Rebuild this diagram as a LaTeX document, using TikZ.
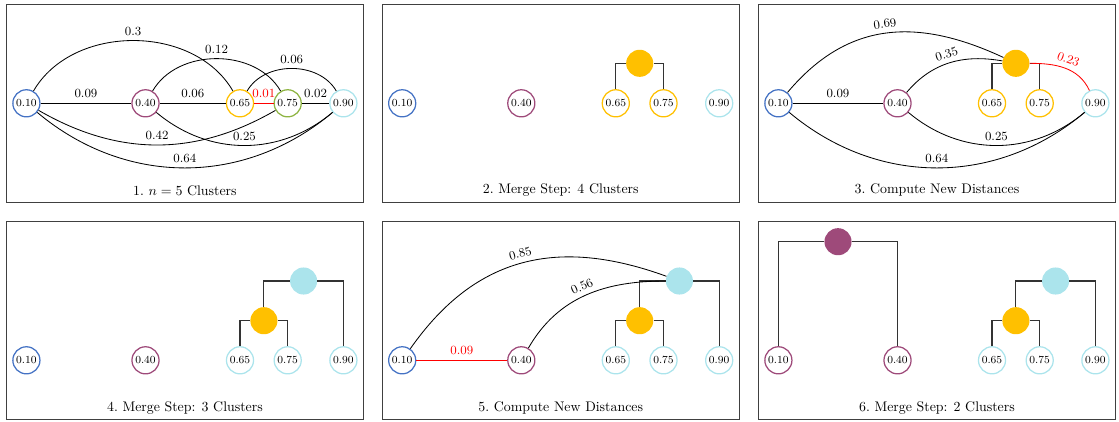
\documentclass[tikz,border=0pt]{standalone}
\usepackage{tikz}

\definecolor{cblue}{RGB}{68,114,196}
\definecolor{cpurple}{RGB}{158,74,122}
\definecolor{corange}{RGB}{255,192,0}
\definecolor{cgreen}{RGB}{142,180,66}
\definecolor{ccyan}{RGB}{171,228,236}

% one row of five leaves: #1 name prefix, #2 panel left edge, #3 row height, #4-#8 ring colours
\newcommand\leafrow[8]{%
  \node[leaf,draw=#4] (#1a) at (#2+19.7,#3) {0.10};
  \node[leaf,draw=#5] (#1b) at (#2+138.8,#3) {0.40};
  \node[leaf,draw=#6] (#1c) at (#2+233.3,#3) {0.65};
  \node[leaf,draw=#7] (#1d) at (#2+281,#3) {0.75};
  \node[leaf,draw=#8] (#1e) at (#2+336.7,#3) {0.90};
}
% panel border and caption: #1 left, #2 top, #3 caption name, #4 caption text
\newcommand\panelframe[4]{%
  \draw[frame] (#1,#2) rectangle ++(356.5,198);
  \node[caption] (#3) at (#1+178.25,#2+186.3) {#4};
}

\begin{document}
\begin{tikzpicture}[x=0.72pt,y=-0.72pt,
  leaf/.style={circle,line width=0.9pt,minimum size=19.5pt,inner sep=0pt,
    font=\fontsize{7.8}{9}\selectfont,fill=white},
  merge/.style={circle,minimum size=19.5pt,inner sep=0pt},
  edge/.style={line width=0.6pt},
  bracket/.style={line width=0.8pt,black!80},
  frame/.style={line width=0.7pt,black!75},
  lbl/.style={font=\small},
  caption/.style={font=\normalsize},
]
\useasboundingbox (0,0) rectangle (1119,421);

% ---------- 1. initial distances ----------
\panelframe{6.7}{4}{cap1}{1.\ $n=5$ Clusters}
\leafrow{p1}{6.7}{103.3}{cblue}{cpurple}{corange}{cgreen}{ccyan}
\draw[edge] (p1a) -- node[lbl,above]{0.09} (p1b);
\draw[edge] (p1b) -- node[lbl,above]{0.06} (p1c);
\draw[edge,red] (p1c) -- node[lbl,above]{0.01} (p1d);
\draw[edge] (p1d) -- node[lbl,above]{0.02} (p1e);
\draw[edge] (p1a) to[bend left=60] node[lbl,above]{0.3} (p1c);
\draw[edge] (p1b) to[bend left=60] node[lbl,above]{0.12} (p1d);
\draw[edge] (p1c) to[bend left=60] node[lbl,above]{0.06} (p1e);
\draw[edge] (p1a) to[bend right=30] node[lbl,above]{0.42} (p1d);
\draw[edge] (p1b) to[bend right=40] node[lbl,above]{0.25} (p1e);
\draw[edge] (p1a) to[bend right=40] node[lbl,above]{0.64} (p1e);

% ---------- 2. first merge ----------
\panelframe{382.5}{4}{cap2}{2.\ Merge Step: 4 Clusters}
\leafrow{p2}{382.5}{103.3}{cblue}{cpurple}{corange}{corange}{ccyan}
\node[merge,fill=corange] (p2o) at (382.5+257.2,63.3) {};
\draw[bracket] (p2c.north) |- (p2o.west);
\draw[bracket] (p2o.east) -| (p2d.north);

% ---------- 3. updated distances ----------
\panelframe{758.7}{4}{cap3}{3.\ Compute New Distances}
\leafrow{p3}{758.7}{103.3}{cblue}{cpurple}{corange}{corange}{ccyan}
\node[merge,fill=corange] (p3o) at (758.7+257.2,63.3) {};
\draw[bracket] (p3c.north) |- (p3o.west);
\draw[bracket] (p3o.east) -| (p3d.north);
\draw[edge] (p3a) -- node[lbl,above]{0.09} (p3b);
\draw[edge] (p3a) to[out=50,in=155,looseness=1.1] node[lbl,above,sloped]{0.69} (p3o);
\draw[edge] (p3b) to[out=50,in=170] node[lbl,above,sloped]{0.35} (p3o);
\draw[edge,red] (p3o) to[out=0,in=115] node[lbl,above,sloped]{0.23} (p3e);
\draw[edge] (p3b) to[bend right=40] node[lbl,above]{0.25} (p3e);
\draw[edge] (p3a) to[bend right=40] node[lbl,above]{0.64} (p3e);

% ---------- 4. second merge ----------
\panelframe{6.7}{221.7}{cap4}{4.\ Merge Step: 3 Clusters}
\leafrow{p4}{6.7}{360.3}{cblue}{cpurple}{ccyan}{ccyan}{ccyan}
\node[merge,fill=corange] (p4o) at (6.7+257.2,320.7) {};
\node[merge,fill=ccyan] (p4y) at (6.7+296.9,281) {};
\draw[bracket] (p4c.north) |- (p4o.west);
\draw[bracket] (p4o.east) -| (p4d.north);
\draw[bracket] (p4o.north) |- (p4y.west);
\draw[bracket] (p4y.east) -| (p4e.north);

% ---------- 5. updated distances ----------
\panelframe{382.5}{221.7}{cap5}{5.\ Compute New Distances}
\leafrow{p5}{382.5}{360.3}{cblue}{cpurple}{ccyan}{ccyan}{ccyan}
\node[merge,fill=corange] (p5o) at (382.5+257.2,320.7) {};
\node[merge,fill=ccyan] (p5y) at (382.5+296.9,281) {};
\draw[bracket] (p5c.north) |- (p5o.west);
\draw[bracket] (p5o.east) -| (p5d.north);
\draw[bracket] (p5o.north) |- (p5y.west);
\draw[bracket] (p5y.east) -| (p5e.north);
\draw[edge,red] (p5a) -- node[lbl,above]{0.09} (p5b);
\draw[edge] (p5a) to[out=55,in=160,looseness=1.1] node[lbl,above,sloped]{0.85} (p5y);
\draw[edge] (p5b) to[out=60,in=180] node[lbl,above,sloped]{0.56} (p5y);

% ---------- 6. third merge ----------
\panelframe{758.7}{221.7}{cap6}{6.\ Merge Step: 2 Clusters}
\leafrow{p6}{758.7}{360.3}{cpurple}{cpurple}{ccyan}{ccyan}{ccyan}
\node[merge,fill=corange] (p6o) at (758.7+257.2,320.7) {};
\node[merge,fill=ccyan] (p6y) at (758.7+296.9,281) {};
\node[merge,fill=cpurple] (p6p) at (758.7+79.3,241.7) {};
\draw[bracket] (p6c.north) |- (p6o.west);
\draw[bracket] (p6o.east) -| (p6d.north);
\draw[bracket] (p6o.north) |- (p6y.west);
\draw[bracket] (p6y.east) -| (p6e.north);
\draw[bracket] (p6a.north) |- (p6p.west);
\draw[bracket] (p6p.east) -| (p6b.north);
\end{tikzpicture}
\end{document}
